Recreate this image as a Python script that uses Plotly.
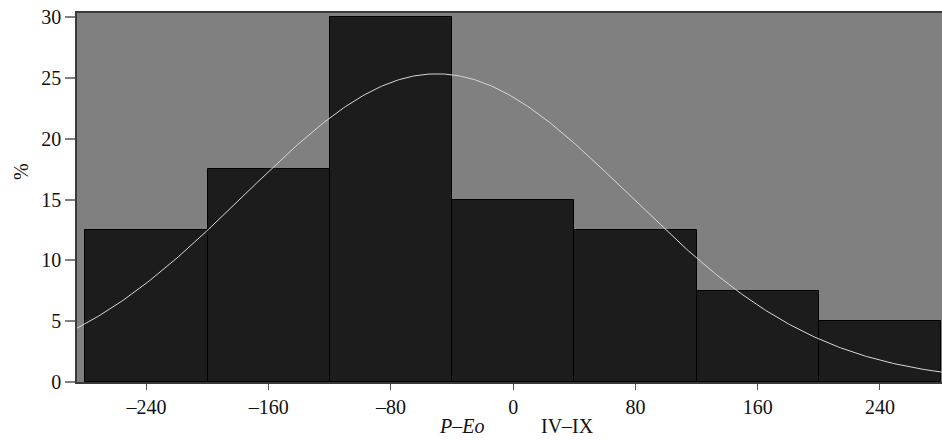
import numpy as np
import plotly.graph_objects as go

# Histogram data (percent per bin of width 80)
bin_centers = [-240, -160, -80, 0, 80, 160, 240]
bin_percent = [12.5, 17.5, 30, 15, 12.5, 7.5, 5]
bin_width = 80

# Fitted normal curve parameters
fit_mean = -50
fit_sd = 126

x_ticks = [-240, -160, -80, 0, 80, 160, 240]
x_tick_labels = ["\u2013240", "\u2013160", "\u201380", "0", "80", "160", "240"]
y_ticks = [0, 5, 10, 15, 20, 25, 30]

xc = np.linspace(-286, 281, 400)
yc = 100 * bin_width * np.exp(-0.5 * ((xc - fit_mean) / fit_sd) ** 2) / (fit_sd * np.sqrt(2 * np.pi))

fig = go.Figure()
fig.add_trace(go.Bar(
    x=bin_centers, y=bin_percent, width=[bin_width] * len(bin_centers),
    marker=dict(color="#1c1c1c", line=dict(color="#000000", width=1)),
    hoverinfo="skip",
))
fig.add_trace(go.Scatter(
    x=xc, y=yc, mode="lines",
    line=dict(color="#d8d8d8", width=1),
    hoverinfo="skip",
))

font = "Liberation Serif, Times New Roman, serif"
fs = 20
fig.update_layout(
    width=942, height=440,
    margin=dict(l=77, r=0, t=13, b=58),
    paper_bgcolor="white",
    plot_bgcolor="#808080",
    showlegend=False,
    bargap=0,
    font=dict(family=font, size=fs, color="#111111"),
    xaxis=dict(
        range=[-285.4, 280.6],
        tickvals=x_ticks, ticktext=x_tick_labels,
        ticks="outside", ticklen=6, tickwidth=1, tickcolor="#555555",
        showgrid=False, zeroline=False,
        showline=True, linecolor="#3a3a3a", linewidth=1.5, mirror=True,
        tickfont=dict(family=font, size=fs, color="#111111"),
    ),
    yaxis=dict(
        range=[0, 30.33],
        tickvals=y_ticks,
        ticks="outside", ticklen=10, tickwidth=1.5, tickcolor="#808080",
        showgrid=False, zeroline=False,
        showline=True, linecolor="#3a3a3a", linewidth=1.5, mirror=False,
        tickfont=dict(family=font, size=fs, color="#111111"),
    ),
    annotations=[
        dict(text="<i>P\u2013Eo</i>", xref="paper", yref="paper",
             x=(461 - 77) / 865, y=-(426 - 382) / 369, showarrow=False,
             xanchor="center", yanchor="middle",
             font=dict(family=font, size=fs, color="#111111")),
        dict(text="IV\u2013IX", xref="paper", yref="paper",
             x=(567.5 - 77) / 865, y=-(426 - 382) / 369, showarrow=False,
             xanchor="center", yanchor="middle",
             font=dict(family=font, size=fs, color="#111111")),
        dict(text="%", xref="paper", yref="paper",
             x=-(77 - 21) / 865, y=(382 - 172) / 369, showarrow=False,
             xanchor="center", yanchor="middle", textangle=-90,
             font=dict(family=font, size=fs, color="#111111")),
    ],
)

fig.write_html("out.html", config={"displayModeBar": False},
               post_script="document.body.style.margin='0';document.body.style.overflow='hidden';")
